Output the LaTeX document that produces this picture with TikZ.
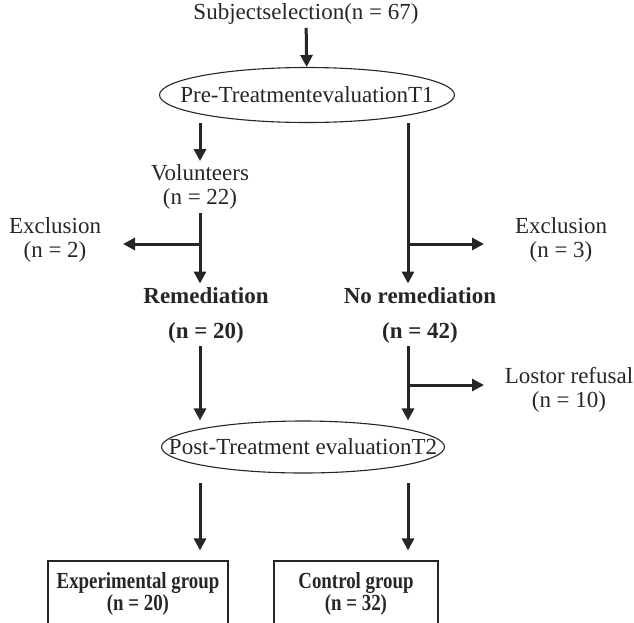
\documentclass[tikz,border=0pt]{standalone}
\usepackage{fontspec}
\setmainfont{Liberation Serif}
\newfontfamily\narrowserif[FakeStretch=0.82]{Liberation Serif}
\usetikzlibrary{arrows.meta,shapes.geometric}
\tikzset{
  flow/.style={line width=3pt, draw=black!85, -{Triangle[width=12pt,length=12pt]}},
  oval/.style={draw=black!85, ellipse, line width=1.1pt, inner sep=0pt},
  side/.style={align=center},
  arm/.style={align=center, font=\fontsize{23}{24}\selectfont\bfseries},
  group/.style={draw=black!85, line width=1.1pt, align=center, font=\fontsize{23}{22}\selectfont\narrowserif\bfseries},
}
\newcommand{\tight}[1]{\makebox[0pt]{#1}}
\begin{document}
\begin{tikzpicture}[x=1pt, y=-1pt, every node/.style={font=\fontsize{23}{24}\selectfont, text=black!85}]
  \useasboundingbox (0,0) rectangle (634,622);
  \clip (0,0) rectangle (634,622);
  % selection and first evaluation
  \node (sel) at (306,14) {Subjectselection(n = 67)};
  \node[oval, minimum width=295pt, minimum height=55pt] (pre) at (307,95) {\tight{Pre-TreatmentevaluationT1}};
  \node[side] (vol) at (200,187) {Volunteers\\(n = 22)};
  \node[side] (exl) at (55,240) {Exclusion\\(n = 2)};
  \node[side] (exr) at (561,240) {Exclusion\\(n = 3)};
  \node[arm] (rem) at (206,315) {Remediation\\[11pt](n = 20)};
  \node[arm] (norem) at (420,315) {No remediation\\[11pt](n = 42)};
  \node[side] (lost) at (569,390) {Lostor refusal\\(n = 10)};
  \node[oval, minimum width=283pt, minimum height=52pt] (post) at (303,447) {\tight{Post-Treatment evaluationT2}};
  \node[group, minimum width=180pt, minimum height=66pt] (exp) at (138,594) {Experimental group\\(n = 20)};
  \node[group, minimum width=164pt, minimum height=66pt] (ctrl) at (356,594) {Control group\\(n = 32)};
  % branch points
  \coordinate (jl) at (200,244);
  \coordinate (jr) at (408,244);
  \coordinate (jlost) at (408,385);
  \coordinate (exltip) at (123,244);
  \coordinate (exrtip) at (484,244);
  \coordinate (losttip) at (484,385);
  % arrows
  \draw[flow] (sel) -- (pre);
  \draw[flow] (pre.south -| jl) -- (vol.north -| jl);
  \draw[flow] (vol.south -| jl) -- (rem.north -| jl);
  \draw[flow] (jl) -- (exltip);
  \draw[flow] (pre.south -| jr) -- (norem.north -| jr);
  \draw[flow] (jr) -- (exrtip);
  \draw[flow] (rem.south -| jl) -- (post.north -| jl);
  \draw[flow] (norem.south -| jr) -- (post.north -| jr);
  \draw[flow] (jlost) -- (losttip);
  \draw[flow, shorten <=9pt, shorten >=10pt] (post.south -| jl) -- (exp.north -| jl);
  \draw[flow, shorten <=9pt, shorten >=10pt] (post.south -| jr) -- (ctrl.north -| jr);
\end{tikzpicture}
\end{document}
